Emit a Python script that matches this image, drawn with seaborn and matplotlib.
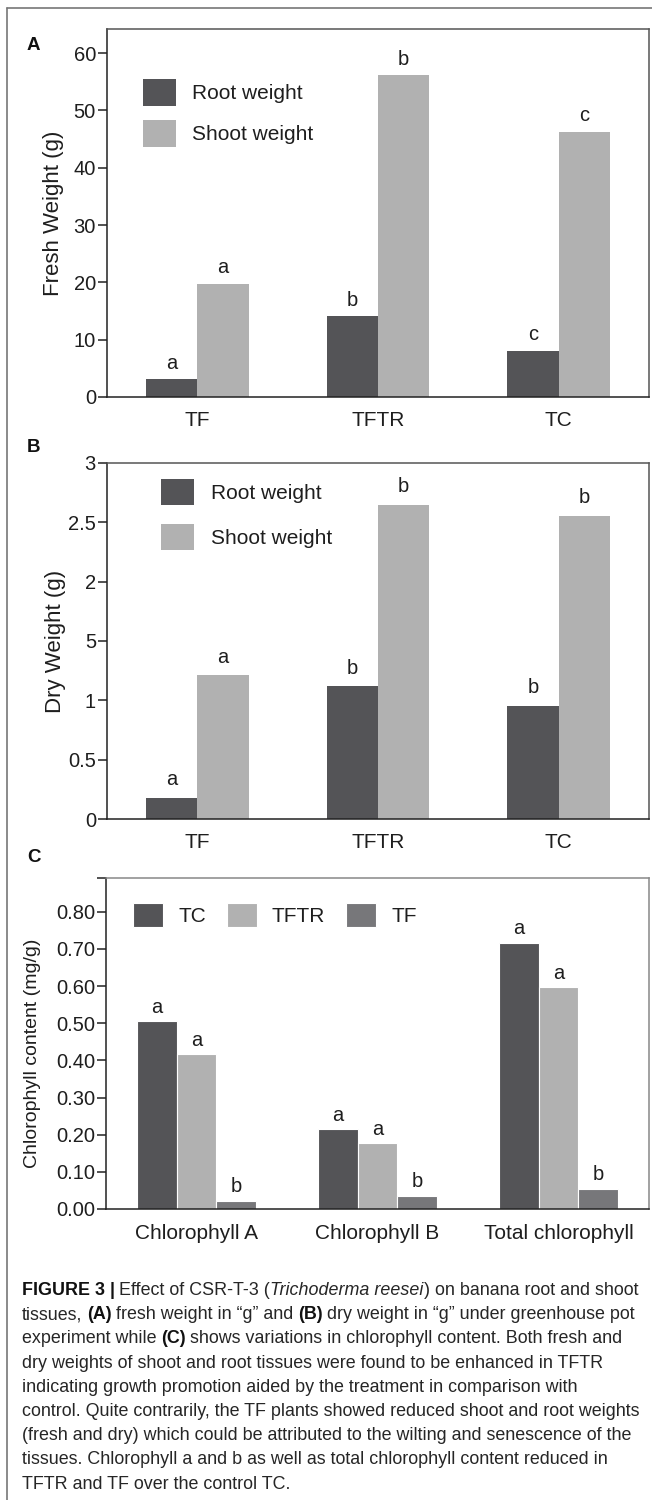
import numpy as np
import pandas as pd
import matplotlib
matplotlib.use("Agg")
import matplotlib.pyplot as plt
import seaborn as sns
from matplotlib.lines import Line2D

# ---------------- data ----------------
treatments = ["TF", "TFTR", "TC"]
weight_series = ["Root weight", "Shoot weight"]

fresh_root = [3.1, 14.1, 8.1]
fresh_shoot = [19.8, 56.1, 46.3]
fresh_root_letters = ["a", "b", "c"]
fresh_shoot_letters = ["a", "b", "c"]

dry_root = [0.18, 1.12, 0.955]
dry_shoot = [1.21, 2.65, 2.555]
dry_root_letters = ["a", "b", "b"]
dry_shoot_letters = ["a", "b", "b"]

chl_categories = ["Chlorophyll A", "Chlorophyll B", "Total chlorophyll"]
chl_series = ["TC", "TFTR", "TF"]
chl_tc = [0.505, 0.215, 0.717]
chl_tftr = [0.417, 0.178, 0.598]
chl_tf = [0.022, 0.036, 0.055]
chl_tc_letters = ["a", "a", "a"]
chl_tftr_letters = ["a", "a", "a"]
chl_tf_letters = ["b", "b", "b"]

fresh_ticks = [0, 10, 20, 30, 40, 50, 60]
fresh_tick_labels = ["0", "10", "20", "30", "40", "50", "60"]
dry_ticks = [0, 0.5, 1, 1.5, 2, 2.5, 3]
dry_tick_labels = ["0", "0.5", "1", "5", "2", "2.5", "3"]
chl_ticks = [0.0, 0.1, 0.2, 0.3, 0.4, 0.5, 0.6, 0.7, 0.8, 0.89]
chl_tick_labels = ["0.00", "0.10", "0.20", "0.30", "0.40", "0.50", "0.60", "0.70", "0.80", ""]

caption_lines = [
    [("FIGURE 3 |", "b"), (" Effect of CSR-T-3 (", ""), ("Trichoderma reesei", "i"), (") on banana root and shoot", "")],
    [("tissues,", ""), (" (A)", "b"), (" fresh weight in \u201cg\u201d and", ""), (" (B)", "b"), (" dry weight in \u201cg\u201d under greenhouse pot", "")],
    [("experiment while", ""), (" (C)", "b"), (" shows variations in chlorophyll content. Both fresh and", "")],
    [("dry weights of shoot and root tissues were found to be enhanced in TFTR", "")],
    [("indicating growth promotion aided by the treatment in comparison with", "")],
    [("control. Quite contrarily, the TF plants showed reduced shoot and root weights", "")],
    [("(fresh and dry) which could be attributed to the wilting and senescence of the", "")],
    [("tissues. Chlorophyll a and b as well as total chlorophyll content reduced in", "")],
    [("TFTR and TF over the control TC.", "")],
]

# ---------------- style ----------------
sns.set_style("white")
plt.rcParams["font.family"] = ["Liberation Sans", "DejaVu Sans"]
plt.rcParams["axes.linewidth"] = 1.0

DARK = "#545457"
LIGHT = "#b1b1b1"
MID = "#77777a"
TXT = "#1e1e1e"

W, H = 652, 1500
fig = plt.figure(figsize=(W / 100, H / 100), dpi=100)
fig.patch.set_facecolor("white")


def make_axes(l, t, r, b):
    return fig.add_axes([l / W, 1 - b / H, (r - l) / W, (b - t) / H])


def style_axes(ax, ticks, ticklabels, ylim, ylabel, ylabel_size, tick_size, label_x, label_y=0.5,
               top_color="#555555", xpad=10):
    ax.set_ylim(*ylim)
    ax.set_xlim(-0.5, 2.5)
    ax.set_yticks(ticks)
    ax.set_yticklabels(ticklabels)
    ax.set_xlabel("")
    ax.set_ylabel(ylabel, fontsize=ylabel_size, color=TXT)
    ax.yaxis.set_label_coords(label_x, label_y)
    for s in ["left", "bottom"]:
        ax.spines[s].set_color("#222222")
        ax.spines[s].set_linewidth(1.1)
    for s in ["top", "right"]:
        ax.spines[s].set_color(top_color)
        ax.spines[s].set_linewidth(1.1)
    ax.tick_params(axis="y", direction="out", length=6.5, width=1.1, pad=1.5,
                   labelsize=tick_size, colors="#222222", labelcolor=TXT, left=True)
    ax.tick_params(axis="x", length=0, pad=xpad, labelsize=15, labelcolor=TXT)
    ax.set_facecolor("white")


def add_letters(ax, letter_sets, offset, size):
    for cont, letters in zip(ax.containers, letter_sets):
        for bar, let in zip(cont, letters):
            ax.annotate(let, (bar.get_x() + bar.get_width() / 2, bar.get_height()),
                        xytext=(0, offset), textcoords="offset points",
                        ha="center", va="baseline", fontsize=size, color=TXT)


# ---------------- panel A ----------------
dfA = pd.DataFrame({
    "treatment": treatments * 2,
    "series": [weight_series[0]] * 3 + [weight_series[1]] * 3,
    "value": fresh_root + fresh_shoot,
})
axA = make_axes(107, 29, 649, 397)
sns.barplot(data=dfA, x="treatment", y="value", hue="series", order=treatments,
            hue_order=weight_series, palette=[DARK, LIGHT], width=0.57, saturation=1,
            errorbar=None, linewidth=0, legend=False, ax=axA)
style_axes(axA, fresh_ticks, fresh_tick_labels, (0, 64.2), "Fresh Weight (g)", 16, 14.5, -0.079)
add_letters(axA, [fresh_root_letters, fresh_shoot_letters], 7.5, 14.5)
axA.legend(axA.containers, weight_series, loc="upper left",
           bbox_to_anchor=((143 - 107) / 542, (397 - 79) / 368), frameon=False,
           borderpad=0, borderaxespad=0, fontsize=15, handlelength=1.6, handleheight=1.6,
           labelspacing=0.67, handletextpad=0.75, labelcolor=TXT)

# ---------------- panel B ----------------
dfB = pd.DataFrame({
    "treatment": treatments * 2,
    "series": [weight_series[0]] * 3 + [weight_series[1]] * 3,
    "value": dry_root + dry_shoot,
})
axB = make_axes(107, 463, 649, 819)
sns.barplot(data=dfB, x="treatment", y="value", hue="series", order=treatments,
            hue_order=weight_series, palette=[DARK, LIGHT], width=0.57, saturation=1,
            errorbar=None, linewidth=0, legend=False, ax=axB)
style_axes(axB, dry_ticks, dry_tick_labels, (0, 3.0), "Dry Weight (g)", 16, 14.5, -0.076)
add_letters(axB, [dry_root_letters, dry_shoot_letters], 9, 14.5)
axB.legend(axB.containers, weight_series, loc="upper left",
           bbox_to_anchor=((161 - 107) / 542, (819 - 479) / 356), frameon=False,
           borderpad=0, borderaxespad=0, fontsize=15, handlelength=1.6, handleheight=1.55,
           labelspacing=0.9, handletextpad=0.8, labelcolor=TXT)

# ---------------- panel C ----------------
dfC = pd.DataFrame({
    "category": chl_categories * 3,
    "series": [chl_series[0]] * 3 + [chl_series[1]] * 3 + [chl_series[2]] * 3,
    "value": chl_tc + chl_tftr + chl_tf,
})
axC = make_axes(106, 878, 649, 1209)
sns.barplot(data=dfC, x="category", y="value", hue="series", order=chl_categories,
            hue_order=chl_series, palette=[DARK, LIGHT, MID], width=0.66, saturation=1,
            errorbar=None, edgecolor="white", linewidth=0.8, legend=False, ax=axC)
style_axes(axC, chl_ticks, chl_tick_labels, (0, 0.891), "Chlorophyll content (mg/g)", 14, 14.5,
           -0.12, 0.47, top_color="#888888", xpad=11)
add_letters(axC, [chl_tc_letters, chl_tftr_letters, chl_tf_letters], 6, 14.5)
axC.legend(axC.containers, chl_series, loc="upper left", ncol=3,
           bbox_to_anchor=((133 - 106) / 543, (1209 - 903) / 331), frameon=False,
           borderpad=0, borderaxespad=0, fontsize=15, handlelength=1.45, handleheight=1.4,
           handletextpad=0.72, columnspacing=1.0, labelcolor=TXT)

# ---------------- panel letters & frame ----------------
for lab, ypx in [("A", 45), ("B", 447), ("C", 858)]:
    fig.text(27 / W, 1 - ypx / H, lab, fontsize=13.5, fontweight="bold", va="center",
             ha="left", color="#111111")

fig.add_artist(Line2D([7 / W, 7 / W], [0, 1 - 8 / H], transform=fig.transFigure,
                      color="#777777", lw=1.2))
fig.add_artist(Line2D([7 / W, 1], [1 - 8 / H, 1 - 8 / H], transform=fig.transFigure,
                      color="#777777", lw=1.2))

# ---------------- caption ----------------
cap_ax = fig.add_axes([0, 0, 1, 1])
cap_ax.set_axis_off()
cap_fs = 12.9
space_pt = 0.25 * cap_fs
y0, dy = 1295, 24.2
for i, parts in enumerate(caption_lines):
    prev = None
    for txt, st in parts:
        kw = dict(fontsize=cap_fs, color="#262626")
        if st == "b":
            kw["fontweight"] = "bold"
            kw["color"] = "#111111"
        if st == "i":
            kw["fontstyle"] = "italic"
        lead = txt.startswith(" ")
        t = txt.lstrip(" ")
        if prev is None:
            prev = cap_ax.text(22 / W, 1 - (y0 + i * dy) / H, t, ha="left", va="baseline",
                               transform=cap_ax.transAxes, **kw)
        else:
            prev = cap_ax.annotate(t, xy=(1, 0), xycoords=prev,
                                   xytext=(space_pt if lead else 0, 0),
                                   textcoords="offset points", ha="left", va="bottom", **kw)

fig.savefig("out.png", dpi=100, facecolor="white")
